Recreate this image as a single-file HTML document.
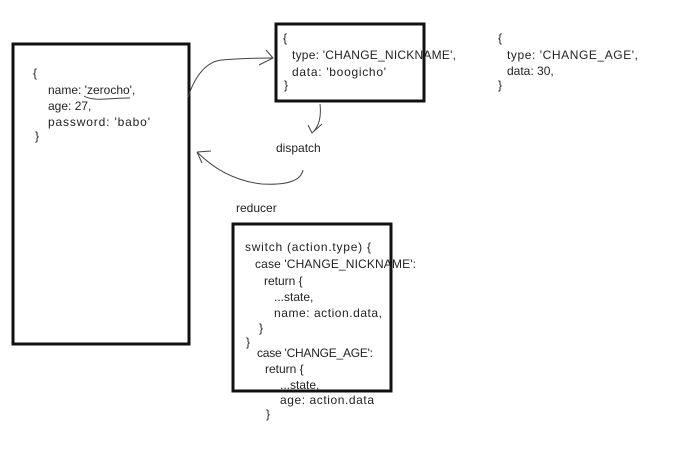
<!DOCTYPE html>
<html><head><meta charset="utf-8"><style>
html,body{margin:0;padding:0;background:#fff;}
svg{display:block;}
text{font-family:"Liberation Sans","NanumGothic",sans-serif;font-size:12px;fill:#222;}
</style></head><body>
<svg width="682" height="454" viewBox="0 0 682 454" xmlns="http://www.w3.org/2000/svg">
<rect x="13" y="44" width="176" height="300" fill="none" stroke="#111" stroke-width="3"/>
<rect x="276" y="24" width="148" height="77" fill="none" stroke="#111" stroke-width="3"/>
<rect x="233" y="224" width="158" height="167" fill="none" stroke="#111" stroke-width="3"/>

<text x="33" y="77">{</text>
<text x="48" y="94">name: 'zerocho',</text>
<text x="48" y="110">age: 27,</text>
<text x="48" y="126" textLength="102">password: 'babo'</text>
<text x="35" y="140">}</text>
<path d="M84 96 Q90 100 106 99 T130 98" fill="none" stroke="#444" stroke-width="1"/>

<text x="283" y="42">{</text>
<text x="292" y="59" textLength="164">type: 'CHANGE_NICKNAME',</text>
<text x="292" y="76" textLength="94">data: 'boogicho'</text>
<text x="284" y="89">}</text>

<text x="498" y="42">{</text>
<text x="507" y="59" textLength="131">type: 'CHANGE_AGE',</text>
<text x="507" y="75">data: 30,</text>
<text x="498" y="89">}</text>

<text x="276" y="152">dispatch</text>
<text x="236" y="212">reducer</text>

<text x="245" y="251" textLength="126">switch (action.type) {</text>
<text x="255" y="268" textLength="161">case 'CHANGE_NICKNAME':</text>
<text x="264" y="285">return {</text>
<text x="274" y="301">...state,</text>
<text x="274" y="317" textLength="108">name: action.data,</text>
<text x="259" y="332">}</text>
<text x="246" y="346">}</text>
<text x="257" y="357" textLength="116">case 'CHANGE_AGE':</text>
<text x="265" y="373">return {</text>
<text x="280" y="389">...state,</text>
<text x="280" y="404" textLength="94">age: action.data</text>
<text x="266" y="418">}</text>

<g fill="none" stroke="#444" stroke-width="1">
<path d="M188 97 Q200 62 222 60 Q245 58 272 58"/>
<path d="M266 50 L273 58 L259 65"/>
<path d="M320 104 Q322 122 314 131"/>
<path d="M308 125 L312 133 L322 124"/>
<path d="M303 170 Q300 186 262 184 Q225 180 197 152"/>
<path d="M197 152 L202 163 M197 152 L211 151"/>
</g>
</svg>
</body></html>
